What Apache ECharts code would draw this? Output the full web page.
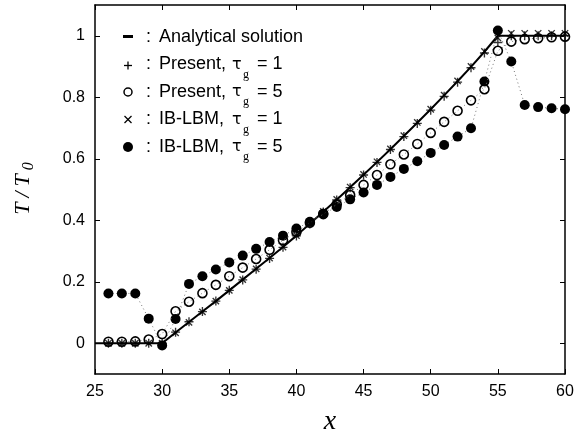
<!DOCTYPE html>
<html>
<head>
<meta charset="utf-8">
<script src="https://cdn.jsdelivr.net/npm/echarts@6/dist/echarts.min.js"></script>
<style>
  html, body { margin: 0; padding: 0; background: #fff; }
  #main { width: 582px; height: 433px; }
</style>
</head>
<body>
<div id="main"></div>
<script>
// x positions of the nodes
var xLine = [25, 26, 27, 28, 29, 30, 31, 32, 33, 34, 35, 36, 37, 38, 39, 40, 41, 42,
  43, 44, 45, 46, 47, 48, 49, 50, 51, 52, 53, 54, 55, 56, 57, 58, 59, 60];
var xPts = xLine.slice(1);

// analytical solution
var analytic = [0, 0, 0, 0, 0, 0, 0.035, 0.069, 0.103, 0.137, 0.172, 0.207, 0.242, 0.277,
  0.313, 0.350, 0.389, 0.428, 0.467, 0.507, 0.548, 0.589, 0.631, 0.674, 0.717, 0.761,
  0.806, 0.852, 0.899, 0.948, 1, 1, 1, 1, 1, 1];
// Present, tau_g = 1
var presentG1 = [0, 0, 0, 0, 0, 0.036, 0.07, 0.103, 0.137, 0.172, 0.206, 0.241, 0.276,
  0.312, 0.349, 0.388, 0.427, 0.466, 0.506, 0.547, 0.588, 0.63, 0.672, 0.715, 0.758,
  0.803, 0.849, 0.896, 0.944, 0.978, 1, 1, 1, 1, 1];
// Present, tau_g = 5
var presentG5 = [0.005, 0.005, 0.006, 0.012, 0.03, 0.104, 0.135, 0.163, 0.19, 0.218,
  0.246, 0.274, 0.304, 0.335, 0.362, 0.392, 0.42, 0.452, 0.482, 0.515, 0.547, 0.582,
  0.614, 0.648, 0.684, 0.72, 0.756, 0.79, 0.826, 0.951, 0.981, 0.989, 0.992, 0.995, 0.997];
// IB-LBM, tau_g = 1
var ibG1 = [0, 0, 0, 0, 0, 0.034, 0.068, 0.102, 0.137, 0.172, 0.207, 0.242, 0.277, 0.313,
  0.35, 0.39, 0.429, 0.468, 0.508, 0.549, 0.59, 0.632, 0.675, 0.718, 0.761, 0.807, 0.853,
  0.9, 0.949, 0.993, 1.008, 1.008, 1.008, 1.008, 1.008];
// IB-LBM, tau_g = 5
var ibG5 = [0.162, 0.162, 0.162, 0.08, -0.007, 0.079, 0.193, 0.218, 0.24, 0.263, 0.285,
  0.307, 0.329, 0.35, 0.373, 0.395, 0.421, 0.443, 0.468, 0.49, 0.515, 0.541, 0.567,
  0.592, 0.619, 0.645, 0.672, 0.699, 0.851, 1.017, 0.916, 0.775, 0.768, 0.764, 0.761];

var yTicks = [0, 0.2, 0.4, 0.6, 0.8, 1];

function pairs(xs, ys) {
  return xs.map(function (x, i) { return [x, ys[i]]; });
}

var plusPath = 'path://M4.25,0h1.5v10h-1.5zM0,4.25h10v1.5h-10z';
var tickFont = { fontFamily: 'Liberation Sans', fontSize: 16, color: '#000' };

var myChart = echarts.init(document.getElementById('main'), null, { renderer: 'canvas' });

// legend rows, drawn by hand
var rows = [
  { y: 37, label: 'Analytical solution' },
  { y: 64.5, label: 'Present,', tau: '1' },
  { y: 92, label: 'Present,', tau: '5' },
  { y: 119.5, label: 'IB-LBM,', tau: '1' },
  { y: 147, label: 'IB-LBM,', tau: '5' }
];
var legendFont = 'Liberation Sans';
var graphics = [];
rows.forEach(function (r) {
  graphics.push({ type: 'text', x: 146, y: r.y, style: { text: ':', fontFamily: legendFont, fontSize: 18, fill: '#000', verticalAlign: 'middle' } });
  graphics.push({ type: 'text', x: 159, y: r.y, style: { text: r.label, fontFamily: legendFont, fontSize: 18, fill: '#000', verticalAlign: 'middle' } });
  if (r.tau) {
    graphics.push({ type: 'text', x: 232, y: r.y, style: { text: 'τ', fontFamily: 'DejaVu Sans', fontSize: 16, fill: '#000', verticalAlign: 'middle' } });
    graphics.push({ type: 'text', x: 243, y: r.y + 10, style: { text: 'g', fontFamily: 'Liberation Serif', fontSize: 12, fill: '#000', verticalAlign: 'middle' } });
    graphics.push({ type: 'text', x: 257, y: r.y, style: { text: '= ' + r.tau, fontFamily: legendFont, fontSize: 18, fill: '#000', verticalAlign: 'middle' } });
  }
});
// legend markers
graphics.push({ type: 'rect', shape: { x: 123, y: rows[0].y - 2, width: 10, height: 3 }, style: { fill: '#000' } });
graphics.push({ type: 'line', shape: { x1: 124, y1: rows[1].y + 1, x2: 132, y2: rows[1].y + 1 }, style: { stroke: '#000', lineWidth: 1.3 } });
graphics.push({ type: 'line', shape: { x1: 128, y1: rows[1].y - 3, x2: 128, y2: rows[1].y + 5 }, style: { stroke: '#000', lineWidth: 1.3 } });
graphics.push({ type: 'circle', shape: { cx: 128, cy: rows[2].y, r: 4 }, style: { fill: 'none', stroke: '#000', lineWidth: 1.5 } });
graphics.push({ type: 'line', shape: { x1: 124.5, y1: rows[3].y - 3.5, x2: 131.5, y2: rows[3].y + 3.5 }, style: { stroke: '#000', lineWidth: 1.2 } });
graphics.push({ type: 'line', shape: { x1: 124.5, y1: rows[3].y + 3.5, x2: 131.5, y2: rows[3].y - 3.5 }, style: { stroke: '#000', lineWidth: 1.2 } });
graphics.push({ type: 'circle', shape: { cx: 128, cy: rows[4].y, r: 5 }, style: { fill: '#000' } });

var option = {
  backgroundColor: '#fff',
  animation: false,
  grid: { left: 95, right: 17, top: 5, bottom: 59, containLabel: false, outerBoundsMode: 'none' },
  xAxis: [
    {
      type: 'value', min: 25, max: 60, interval: 5,
      name: 'x', nameLocation: 'middle', nameGap: 34,
      nameTextStyle: { fontFamily: 'Liberation Serif', fontStyle: 'italic', fontSize: 28, color: '#000' },
      axisLine: { onZero: false, lineStyle: { color: '#000', width: 1.5 } },
      axisTick: { inside: true, length: 5, lineStyle: { color: '#000' } },
      axisLabel: Object.assign({ margin: 10 }, tickFont),
      splitLine: { show: false }
    },
    {
      type: 'value', position: 'top', min: 25, max: 60, interval: 5,
      axisLine: { onZero: false, lineStyle: { color: '#000', width: 1.5 } },
      axisTick: { inside: true, length: 5, lineStyle: { color: '#000' } },
      axisLabel: { show: false },
      splitLine: { show: false }
    }
  ],
  yAxis: [
    {
      type: 'value', min: -0.1, max: 1.1,
      name: '{t|T}{sl|/}{t|T}{s|0}', nameLocation: 'middle', nameGap: 58, nameRotate: 90,
      nameTextStyle: {
        rich: {
          t: { fontFamily: 'Liberation Serif', fontStyle: 'italic', fontSize: 22, color: '#000', padding: [0, 2, 0, 2] },
          sl: { fontFamily: 'Liberation Serif', fontStyle: 'italic', fontSize: 22, color: '#000', padding: [0, 3, 0, 3] },
          s: { fontFamily: 'Liberation Serif', fontStyle: 'italic', fontSize: 16, color: '#000', padding: [12, 0, 0, 2] }
        }
      },
      axisLine: { onZero: false, lineStyle: { color: '#000', width: 1.5 } },
      axisTick: { inside: true, length: 5, customValues: yTicks, lineStyle: { color: '#000' } },
      axisLabel: Object.assign({ margin: 10, customValues: yTicks }, tickFont),
      splitLine: { show: false }
    },
    {
      type: 'value', position: 'right', min: -0.1, max: 1.1,
      axisLine: { onZero: false, lineStyle: { color: '#000', width: 1.5 } },
      axisTick: { inside: true, length: 5, customValues: yTicks, lineStyle: { color: '#000' } },
      axisLabel: { show: false },
      splitLine: { show: false }
    }
  ],
  series: [
    {
      name: 'Analytical solution', type: 'line', data: pairs(xLine, analytic),
      showSymbol: false, lineStyle: { color: '#000', width: 2 }, z: 2
    },
    {
      name: 'IB-LBM tau=5', type: 'line', data: pairs(xPts, ibG5),
      symbol: 'circle', symbolSize: 10,
      itemStyle: { color: '#000' },
      lineStyle: { color: '#777', width: 1, type: [1, 3] }, z: 3
    },
    {
      name: 'Present tau=5', type: 'line', data: pairs(xPts, presentG5),
      symbol: 'circle', symbolSize: 9,
      itemStyle: { color: 'rgba(0,0,0,0)', borderColor: '#000', borderWidth: 1.6 },
      lineStyle: { color: '#777', width: 1, type: [1, 3] }, z: 4
    },
    {
      name: 'Present tau=1', type: 'scatter', data: pairs(xPts, presentG1),
      symbol: plusPath, symbolSize: 9, symbolKeepAspect: true,
      itemStyle: { color: '#000' }, z: 5
    },
    {
      name: 'IB-LBM tau=1', type: 'scatter', data: pairs(xPts, ibG1),
      symbol: plusPath, symbolSize: 9, symbolRotate: 45, symbolKeepAspect: true,
      itemStyle: { color: '#000' }, z: 5
    }
  ],
  graphic: graphics
};

myChart.setOption(option);
</script>
</body>
</html>
